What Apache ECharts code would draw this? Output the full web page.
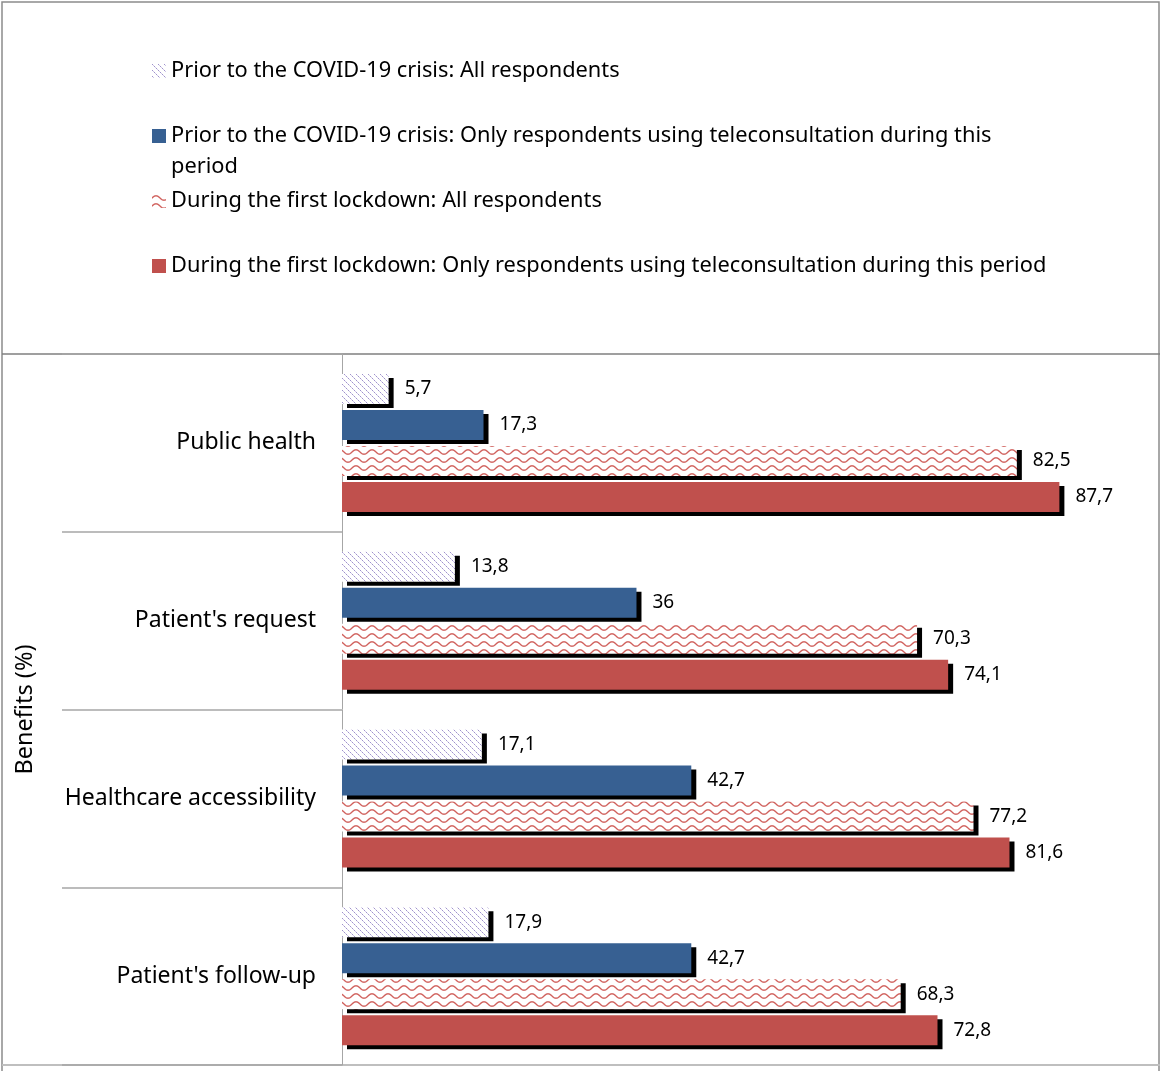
<!DOCTYPE html>
<html>
<head>
<meta charset="utf-8">
<script src="https://cdn.jsdelivr.net/npm/echarts@6/dist/echarts.min.js"></script>
<style>
html,body{margin:0;padding:0;background:#fff;}
#chart{width:1160px;height:1071px;}
</style>
</head>
<body>
<div id="chart"></div>
<script>
// ---- data ----
const categories = ["Public health", "Patient's request", "Healthcare accessibility", "Patient's follow-up"];
const seriesNames = [
  "Prior to the COVID-19 crisis: All respondents",
  "Prior to the COVID-19 crisis: Only respondents using teleconsultation during this period",
  "During the first lockdown: All respondents",
  "During the first lockdown: Only respondents using teleconsultation during this period"
];
const priorAll = [5.7, 13.8, 17.1, 17.9];
const priorTele = [17.3, 36, 42.7, 42.7];
const lockAll = [82.5, 70.3, 77.2, 68.3];
const lockTele = [87.7, 74.1, 81.6, 72.8];
const axisTitle = "Benefits (%)";

// ---- patterns ----
function hatchPattern() {
  const n = 6;
  const c = document.createElement('canvas');
  c.width = n; c.height = n;
  const ctx = c.getContext('2d');
  ctx.fillStyle = '#ffffff'; ctx.fillRect(0, 0, n, n);
  for (let i = 0; i < n; i++) {
    ctx.fillStyle = (i % 2 === 0) ? '#9f92cc' : '#cfc7e8';
    ctx.fillRect(i, i, 1, 1);
  }
  return c;
}
function wavePattern() {
  const w = 16, h = 8;
  const c = document.createElement('canvas');
  c.width = w; c.height = h;
  const ctx = c.getContext('2d');
  ctx.fillStyle = '#ffffff'; ctx.fillRect(0, 0, w, h);
  ctx.strokeStyle = '#d0605c';
  ctx.lineWidth = 1.4;
  ctx.beginPath();
  for (let x = -1; x <= w + 1; x += 0.5) {
    const y = 4 - 2.2 * Math.sin(x / w * Math.PI * 2);
    if (x === -1) ctx.moveTo(x, y); else ctx.lineTo(x, y);
  }
  ctx.stroke();
  return c;
}
const colHatch = {image: hatchPattern(), repeat: 'repeat'};
const colWave = {image: wavePattern(), repeat: 'repeat'};
const colBlue = '#376092';
const colRed = '#c0504d';

const font = 'Noto Sans';
const fmt = p => String(p.value).replace('.', ',');

function mkSeries(name, data, color) {
  return {
    name: name, type: 'bar', data: data,
    barWidth: 30, barGap: '20%',
    itemStyle: {color: color, shadowColor: '#000', shadowOffsetX: 5, shadowOffsetY: 4, shadowBlur: 0},
    label: {show: true, position: 'right', distance: 16, formatter: fmt,
            color: '#000', fontFamily: font, fontSize: 19},
    emphasis: {disabled: true},
    animation: false
  };
}

const legendText = {color: '#000', fontFamily: font, fontSize: 21.8, lineHeight: 31};
function mkLegend(name, centerY, lines) {
  const h = 31 * lines;
  return {
    show: true, data: [{name: name, icon: 'rect'}], left: 152, top: centerY - h / 2, orient: 'vertical',
    padding: 0, itemWidth: 14, itemHeight: 14, itemGap: 0,
    selectedMode: false, textStyle: legendText,
    formatter: n => lines === 3 ? '\n' + 'Prior to the COVID-19 crisis: Only respondents using teleconsultation during this\nperiod' : n
  };
}

const chart = echarts.init(document.getElementById('chart'));
chart.setOption({
  animation: false,
  backgroundColor: '#fff',
  textStyle: {fontFamily: font},
  legend: [
    mkLegend(seriesNames[0], 71, 1),
    mkLegend(seriesNames[1], 136, 3),
    mkLegend(seriesNames[2], 201, 1),
    mkLegend(seriesNames[3], 266, 1)
  ],
  grid: {left: 342, right: -1, top: 354, bottom: 6, containLabel: false},
  xAxis: {
    type: 'value', min: 0, max: 100, show: false
  },
  yAxis: {
    type: 'category', data: categories, inverse: true,
    name: axisTitle, nameLocation: 'middle', nameGap: 305, nameRotate: 90,
    nameTextStyle: {color: '#000', fontFamily: font, fontSize: 23.5},
    axisLine: {show: true, lineStyle: {color: '#a6a6a6', width: 1}},
    axisTick: {show: true, length: 280, lineStyle: {color: '#a6a6a6', width: 1.5}},
    axisLabel: {color: '#000', fontFamily: font, fontSize: 23, margin: 26}
  },
  graphic: [
    {type: 'rect', silent: true, z: -1, shape: {x: 2, y: 2, width: 1157, height: 1080},
     style: {fill: null, stroke: '#8c8c8c', lineWidth: 1.5}},
    {type: 'line', silent: true, shape: {x1: 2, y1: 354, x2: 1160, y2: 354},
     style: {stroke: '#7f7f7f', lineWidth: 1.5}},
    {type: 'line', silent: true, shape: {x1: 2, y1: 1065, x2: 1160, y2: 1065},
     style: {stroke: '#bfbfbf', lineWidth: 2}}
  ],
  series: [
    mkSeries(seriesNames[0], priorAll, colHatch),
    mkSeries(seriesNames[1], priorTele, colBlue),
    mkSeries(seriesNames[2], lockAll, colWave),
    mkSeries(seriesNames[3], lockTele, colRed)
  ]
});
</script>
</body>
</html>
